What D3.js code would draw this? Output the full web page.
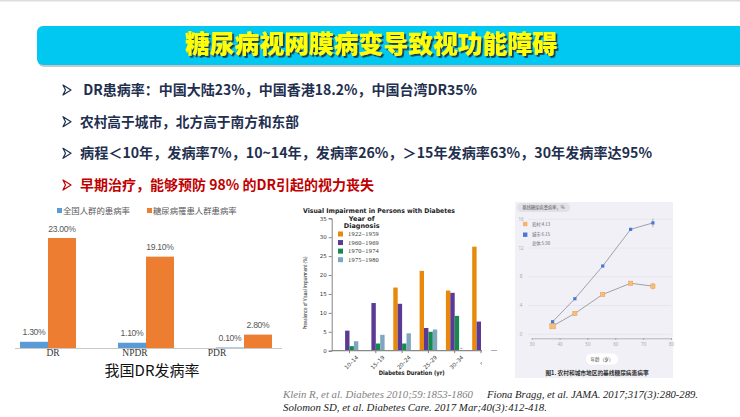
<!DOCTYPE html>
<html><head><meta charset="utf-8">
<script src="https://cdn.jsdelivr.net/npm/d3@7"></script>
<style>body{margin:0;background:#fff}svg{display:block}</style>
</head><body>
<script>
// ---------- DATA ----------
const titleText = "糖尿病视网膜病变导致视功能障碍";
const bullets = [
  " DR患病率：中国大陆23%，中国香港18.2%，中国台湾DR35%",
  "农村高于城市，北方高于南方和东部",
  "病程＜10年，发病率7%，10~14年，发病率26%，＞15年发病率63%，30年发病率达95%",
  "早期治疗，能够预防 98% 的DR引起的视力丧失"
];
// left chart
const cnCats = ["DR", "NPDR", "PDR"];
const cnSeries = ["全国人群的患病率", "糖尿病罹患人群患病率"];
const cnNational = [1.3, 1.1, 0.1];
const cnDiabetic = [23.0, 19.1, 2.8];
const cnTitle = "我国DR发病率";
// middle chart
const viDurations = ["10–14", "15–19", "20–24", "25–29", "30–34", "≥35"];
const viSeries = ["1922–1959", "1960–1969", "1970–1974", "1975–1980"];
const vi1922 = [null, null, 16.7, 21.1, 15.9, 27.5];
const vi1960 = [5.3, 12.6, 12.4, 6.0, 15.3, 7.7];
const vi1970 = [1.2, 1.9, 1.9, 5.0, 9.2, null];
const vi1975 = [2.5, 4.2, 4.6, 5.6, null, null];
const viTicks = [0, 5, 10, 15, 20, 25, 30, 35];
// right chart
const ages = [37.5, 45.5, 55.5, 65.5, 73.5];
const rural = [1.15, 2.9, 5.55, 7.1, 6.7];
const urban = [1.75, 4.95, 9.5, 14.6, 15.5];
const ruralErr = [0, 0, 0, 0.12, 0.45];
const urbanErr = [0, 0, 0, 0.15, 0.6];
const ageTicks = [30, 40, 50, 60, 70, 80];
const prevTicks = [0, 4, 8, 12, 16];
const ruLegend = ["农村:4.13", "城市:6.15", "总体:5.90"];
const refs1a = "Klein R, et al. Diabetes 2010;59:1853-1860";
const refs1b = "Fiona Bragg, et al. JAMA. 2017;317(3):280-289.";
const refs2 = "Solomon SD, et al. Diabetes Care. 2017 Mar;40(3):412-418.";

// ---------- DRAW ----------
const W = 740, H = 417;
const CJK = "'Noto Sans CJK SC','Noto Sans',sans-serif";
const svg = d3.select("body").append("svg").attr("width", W).attr("height", H);
const defs = svg.append("defs");
const f = defs.append("filter").attr("id", "tshadow").attr("x", "-10%").attr("y", "-30%").attr("width", "120%").attr("height", "160%");
f.append("feDropShadow").attr("dx", 1.8).attr("dy", 1.8).attr("stdDeviation", 0.6).attr("flood-color", "#1e2e3e").attr("flood-opacity", 0.9);

svg.append("rect").attr("x", 0).attr("y", 0).attr("width", W).attr("height", 1.5).attr("fill", "#dcdcdc");

// title bar
svg.append("rect").attr("x", 38).attr("y", 28).attr("width", 720).attr("height", 39).attr("rx", 6).attr("fill", "#b9b9b9").attr("opacity", 0.8);
svg.append("rect").attr("x", 37).attr("y", 26).attr("width", 720).attr("height", 39).attr("rx", 6).attr("fill", "#00C8F0");
svg.append("text").attr("x", 371).attr("y", 53).attr("text-anchor", "middle")
  .attr("font-family", CJK).attr("font-weight", 900).attr("font-size", 25)
  .attr("textLength", 372).attr("lengthAdjust", "spacingAndGlyphs")
  .attr("filter", "url(#tshadow)")
  .attr("fill", "#FFFF00").text(titleText);

// bullets
const bulletY = d3.scalePoint().domain(d3.range(bullets.length)).range([90, 185]);
const bulletW = [397, 219, 572, 294];
bullets.forEach((t, i) => {
  const y = bulletY(i);
  const col = i === 3 ? "#C00000" : "#1F2F4F";
  svg.append("path").attr("d", `M${63},${y - 5} L${71},${y} L${63},${y + 5} L${65.5},${y} Z`)
    .attr("fill", "none").attr("stroke", col).attr("stroke-width", 1.2).attr("stroke-linejoin", "round");
  svg.append("text").attr("x", 80).attr("y", y + 5).attr("font-family", CJK)
    .attr("font-weight", 700).attr("font-size", 13.9).attr("fill", col)
    .attr("textLength", bulletW[i]).attr("lengthAdjust", "spacingAndGlyphs")
    .attr("xml:space", "preserve").style("white-space", "pre").text(t);
});

// ---------- left chart ----------
{
  const g = svg.append("g");
  const x0 = d3.scaleBand().domain(cnCats).range([-1, 293]);
  const x1 = d3.scaleBand().domain([0, 1]).range([-28, 28]);
  const y = d3.scaleLinear().domain([0, 23]).range([348, 238]);
  const cols = ["#5B9BD5", "#ED7D31"];
  const series = [cnNational, cnDiabetic];
  series.forEach((vals, s) => {
    cnCats.forEach((c, i) => {
      const cx = x0(c) + x0.bandwidth() / 2 + x1(s);
      g.append("rect").attr("x", cx).attr("y", y(vals[i])).attr("width", x1.bandwidth())
        .attr("height", y(0) - y(vals[i])).attr("fill", cols[s]);
      g.append("text").attr("x", cx + x1.bandwidth() / 2).attr("y", y(vals[i]) - 6.5)
        .attr("text-anchor", "middle").attr("font-family", "'Liberation Sans',Arial,sans-serif")
        .attr("font-size", 8.6).attr("fill", "#595959").attr("letter-spacing", -0.3)
        .text(vals[i].toFixed(2) + "%");
    });
  });
  g.append("line").attr("x1", 15).attr("x2", 282).attr("y1", 348.5).attr("y2", 348.5).attr("stroke", "#c8c8c8");
  cnCats.forEach((c, i) => {
    g.append("text").attr("x", x0(c) + x0.bandwidth() / 2 + 5 - 16 * i).attr("y", 356)
      .attr("text-anchor", "middle").attr("font-family", "'Liberation Serif','Times New Roman',serif")
      .attr("font-size", 9.5).attr("fill", "#333").text(c);
  });
  // legend
  const lx = [57, 147];
  cnSeries.forEach((t, s) => {
    g.append("rect").attr("x", lx[s]).attr("y", 208).attr("width", 5).attr("height", 5).attr("fill", cols[s]);
    g.append("text").attr("x", lx[s] + 6).attr("y", 213.5).attr("font-family", CJK)
      .attr("font-size", 8.4).attr("fill", "#595959").text(t);
  });
  g.append("text").attr("x", 152).attr("y", 376).attr("text-anchor", "middle")
    .attr("font-family", CJK).attr("font-size", 15).attr("fill", "#111").text(cnTitle);
}

// ---------- middle chart ----------
{
  defs.append("clipPath").attr("id", "viClip").append("rect").attr("x", 285).attr("y", 195).attr("width", 197).attr("height", 190);
  const g = svg.append("g").attr("clip-path", "url(#viClip)");
  const x0 = d3.scaleBand().domain(viDurations).range([336.35, 336.35 + 26.3 * 6]);
  const x1 = d3.scaleBand().domain(d3.range(4)).range([-8.8, 8.8]);
  const y = d3.scaleLinear().domain([0, 35]).range([350.7, 218.3]);
  const cols = ["#E8890C", "#5A3A95", "#17894D", "#7EA6BE"];
  const data = [vi1922, vi1960, vi1970, vi1975];
  data.forEach((vals, s) => {
    viDurations.forEach((d, i) => {
      if (vals[i] == null) return;
      const cx = x0(d) + x0.bandwidth() / 2 + x1(s);
      g.append("rect").attr("x", cx).attr("y", y(vals[i])).attr("width", x1.bandwidth())
        .attr("height", y(0) - y(vals[i])).attr("fill", cols[s]);
    });
  });
  // asterisk for missing 1975-1980 at 30-34
  g.append("text").attr("x", x0("30–34") + x0.bandwidth() / 2 + x1(3) + x1.bandwidth() / 2)
    .attr("y", 351).attr("text-anchor", "middle").attr("font-family", "'DejaVu Sans',sans-serif")
    .attr("font-size", 5).attr("fill", "#888").text("*");
  // axes
  const yAxis = d3.axisLeft(y).tickValues(viTicks).tickSize(3).tickPadding(2);
  const ya = g.append("g").attr("transform", "translate(331.7,0)").call(yAxis);
  ya.selectAll("text").attr("font-family", "'DejaVu Sans',sans-serif").attr("font-size", 5.5).attr("fill", "#333");
  ya.selectAll("line,path").attr("stroke", "#666").attr("stroke-width", 0.8);
  const xAxis = d3.axisBottom(x0).tickSize(2.5).tickSizeOuter(0).tickPadding(2);
  const xa = g.append("g").attr("transform", "translate(0,350.7)").call(xAxis);
  xa.select(".domain").attr("d", "M331.7,0H490").attr("stroke", "#888").attr("stroke-width", 1.2);
  xa.selectAll(".tick line").attr("stroke", "#666").attr("stroke-width", 0.8);
  xa.selectAll("text").attr("font-family", "'DejaVu Sans',sans-serif").attr("font-size", 5.5).attr("fill", "#333")
    .attr("text-anchor", "end").attr("transform", "translate(4,2) rotate(-45)").attr("dy", "0.5em");
  g.append("text").attr("x", 379).attr("y", 212.5).attr("text-anchor", "middle")
    .attr("font-family", "'DejaVu Sans',sans-serif").attr("font-weight", 700).attr("font-size", 6.5)
    .attr("textLength", 152).attr("lengthAdjust", "spacingAndGlyphs").attr("fill", "#222")
    .text("Visual Impairment in Persons with Diabetes");
  g.append("text").attr("transform", "translate(307,293) rotate(-90)").attr("text-anchor", "middle")
    .attr("font-family", "'DejaVu Sans',sans-serif").attr("font-size", 5.5)
    .attr("textLength", 73).attr("lengthAdjust", "spacingAndGlyphs").attr("fill", "#222")
    .text("Prevalence of Visual Impairment (%)");
  g.append("text").attr("x", 411.7).attr("y", 375).attr("text-anchor", "middle")
    .attr("font-family", "'DejaVu Sans',sans-serif").attr("font-weight", 700).attr("font-size", 6.2)
    .attr("textLength", 66).attr("lengthAdjust", "spacingAndGlyphs").attr("fill", "#222")
    .text("Diabetes Duration (yr)");
  // legend
  g.append("text").attr("x", 361.7).attr("y", 220.5).attr("text-anchor", "middle")
    .attr("font-family", "'DejaVu Sans',sans-serif").attr("font-weight", 700).attr("font-size", 6.5).attr("fill", "#222").text("Year of");
  g.append("text").attr("x", 361.7).attr("y", 227.5).attr("text-anchor", "middle")
    .attr("font-family", "'DejaVu Sans',sans-serif").attr("font-weight", 700).attr("font-size", 6.5).attr("fill", "#222").text("Diagnosis");
  const ly = d3.scalePoint().domain(d3.range(4)).range([234, 259.7]);
  viSeries.forEach((t, s) => {
    g.append("rect").attr("x", 338).attr("y", ly(s) - 2.5).attr("width", 5).attr("height", 5).attr("fill", cols[s]);
    g.append("text").attr("x", 348).attr("y", ly(s) + 2).attr("font-family", "'Liberation Serif',serif")
      .attr("font-size", 6.3).attr("letter-spacing", 0.3).attr("fill", "#333").text(t);
  });
}

// ---------- right chart ----------
{
  const g = svg.append("g");
  g.append("line").attr("x1", 491).attr("x2", 497).attr("y1", 350.5).attr("y2", 350.5).attr("stroke", "#999").attr("stroke-width", 0.8);
  g.append("rect").attr("x", 515).attr("y", 202).attr("width", 158).attr("height", 176).attr("fill", "#F1F0F6");
  const x = d3.scaleLinear().domain([30, 80]).range([531.7, 671]);
  const y = d3.scaleLinear().domain([0, 16]).range([334.3, 219.3]);
  prevTicks.forEach(t => {
    g.append("line").attr("x1", 528).attr("x2", 671).attr("y1", y(t)).attr("y2", y(t)).attr("stroke", "#e3e2ea").attr("stroke-width", 0.7);
    g.append("text").attr("x", 521).attr("y", y(t) + 1.5).attr("text-anchor", "middle")
      .attr("font-family", "'Noto Sans',sans-serif").attr("font-size", 4.5).attr("fill", "#aaa").text(t);
  });
  const xAxis = d3.axisBottom(x).tickValues(ageTicks).tickSize(1.5).tickSizeOuter(0).tickPadding(3);
  const xa = g.append("g").attr("transform", "translate(0,338.3)").call(xAxis);
  xa.select(".domain").attr("stroke", "#9a9aa2").attr("stroke-width", 0.7);
  xa.selectAll(".tick line").attr("stroke", "#9a9aa2");
  xa.selectAll("text").attr("font-family", "'Noto Sans',sans-serif").attr("font-size", 4.5).attr("fill", "#aaa");
  const line = d3.line().x((d, i) => x(ages[i])).y(d => y(d));
  [rural, urban].forEach((vals, s) => {
    g.append("path").attr("d", line(vals)).attr("fill", "none").attr("stroke", "#8c8b96").attr("stroke-width", 0.8);
    const err = s === 0 ? ruralErr : urbanErr;
    vals.forEach((v, i) => {
      if (err[i] > 0) {
        g.append("line").attr("x1", x(ages[i])).attr("x2", x(ages[i])).attr("y1", y(v - err[i])).attr("y2", y(v + err[i]))
          .attr("stroke", "#999").attr("stroke-width", 0.7);
      }
    });
  });
  rural.forEach((v, i) => {
    const sz = i === 0 ? 5.5 : 4.2;
    g.append("rect").attr("x", x(ages[i]) - sz / 2).attr("y", y(v) - sz / 2).attr("width", sz).attr("height", sz)
      .attr("fill", "#F6BE7E").attr("stroke", "#EFA24E").attr("stroke-width", 0.6);
  });
  urban.forEach((v, i) => {
    const sz = 3.2;
    g.append("rect").attr("x", x(ages[i]) - sz / 2).attr("y", y(v) - sz / 2).attr("width", sz).attr("height", sz)
      .attr("fill", "#4A78D8");
  });
  // pill
  g.append("rect").attr("x", 517).attr("y", 203).attr("width", 53).attr("height", 9).attr("rx", 4.5).attr("fill", "#E2E1E8");
  g.append("text").attr("x", 543.5).attr("y", 209.2).attr("text-anchor", "middle").attr("font-family", CJK)
    .attr("font-size", 4.3).attr("fill", "#555").text("基线糖尿病患病率，%");
  // legend
  const lcol = ["#F6B46A", "#4A78D8"];
  const lyy = [224, 234.7, 243.3];
  ruLegend.forEach((t, i) => {
    if (i < 2) g.append("rect").attr("x", 523).attr("y", lyy[i] - 2.2).attr("width", 4.4).attr("height", 4.4).attr("fill", lcol[i]);
    g.append("text").attr("x", 532).attr("y", lyy[i] + 1.5).attr("font-family", CJK)
      .attr("font-size", 4.3).attr("fill", "#666").text(t);
  });
  // x label pill
  g.append("rect").attr("x", 586).attr("y", 353.5).attr("width", 32).attr("height", 11).attr("rx", 5.5).attr("fill", "#fff");
  g.append("text").attr("x", 602).attr("y", 360.5).attr("text-anchor", "middle").attr("font-family", CJK)
    .attr("font-size", 4.6).attr("fill", "#444").text("年龄（岁）");
  g.append("text").attr("x", 597).attr("y", 374.8).attr("text-anchor", "middle").attr("font-family", CJK)
    .attr("font-weight", 700).attr("font-size", 5.7).attr("fill", "#333").text("图1. 农村和城市地区的基线糖尿病患病率");
}

// references
const RF = "'Liberation Serif','Times New Roman',serif";
svg.append("text").attr("x", 283).attr("y", 397.5).attr("font-family", RF).attr("font-style", "italic")
  .attr("font-size", 10.8).attr("textLength", 190).attr("lengthAdjust", "spacingAndGlyphs")
  .attr("fill", "#7f7f7f").text(refs1a);
svg.append("text").attr("x", 487).attr("y", 397.5).attr("font-family", RF).attr("font-style", "italic")
  .attr("font-size", 10.7).attr("textLength", 211).attr("lengthAdjust", "spacingAndGlyphs")
  .attr("fill", "#222").text(refs1b);
svg.append("text").attr("x", 283).attr("y", 410.5).attr("font-family", RF).attr("font-style", "italic")
  .attr("font-size", 10.8).attr("textLength", 264).attr("lengthAdjust", "spacingAndGlyphs")
  .attr("fill", "#222").text(refs2);
</script>
</body></html>
